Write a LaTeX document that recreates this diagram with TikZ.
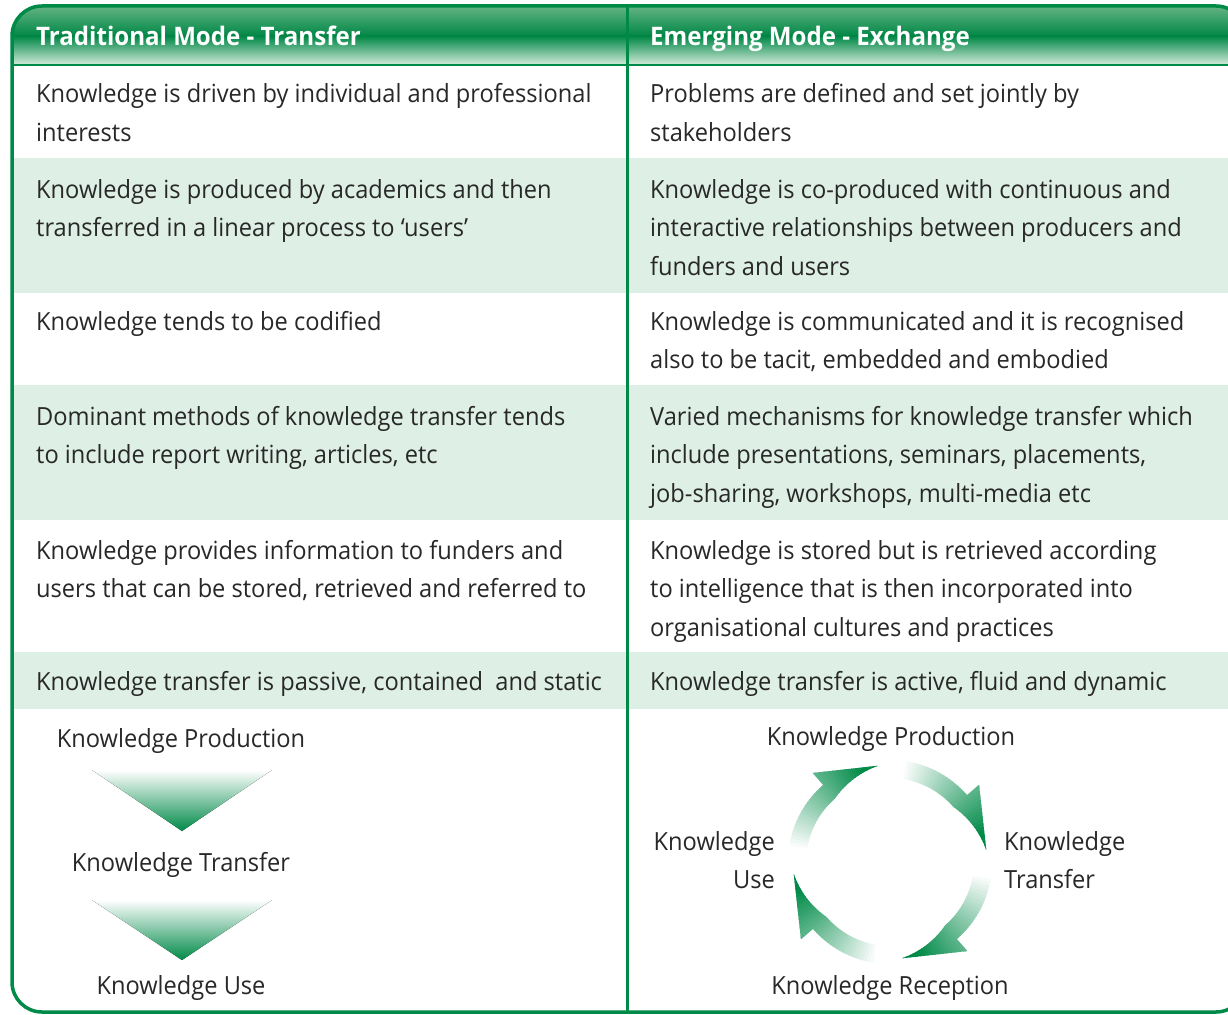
\documentclass[tikz,border=0pt]{standalone}
\usepackage{fontspec}
\setmainfont[FakeStretch=0.945]{Open Sans}
\definecolor{kgreen}{RGB}{0,138,72}
\definecolor{hdark}{RGB}{0,135,70}
\definecolor{hlight}{RGB}{100,180,130}
\definecolor{hpale}{RGB}{205,232,214}
\definecolor{rowgreen}{RGB}{222,239,230}
\definecolor{txt}{RGB}{40,40,40}
\newcommand{\celltext}[1]{\begin{tabular}[t]{@{}l@{}}#1\end{tabular}}
\newcommand{\celltextr}[1]{\begin{tabular}[t]{@{}r@{}}#1\end{tabular}}
\begin{document}
\begin{tikzpicture}[x=1pt,y=-1pt,
  body/.style={inner sep=0pt, anchor=base west, text=txt, font=\fontsize{25}{38.5}\selectfont},
  headtext/.style={inner sep=0pt, anchor=base west, text=white, font=\fontsize{25.5}{30}\selectfont\bfseries},
  lbl/.style={inner sep=0pt, anchor=base, text=txt, font=\fontsize{25}{38.5}\selectfont},
  funnel/.style={top color=white, bottom color=kgreen},
]
\useasboundingbox (0,0) rectangle (1228,1014);
\clip (0,0) rectangle (1228,1014);
\begin{scope}
  \clip[rounded corners=30pt] (12,6) rectangle (1246,1012);
  \fill[white] (0,0) rectangle (1228,1014);
  \fill[top color=hlight, bottom color=hdark] (0,6) rectangle (1228,36);
  \fill[top color=hdark, bottom color=hpale] (0,36) rectangle (1228,64);
  \fill[rowgreen] (0,158) rectangle (1228,293);
  \fill[rowgreen] (0,385) rectangle (1228,520);
  \fill[rowgreen] (0,652) rectangle (1228,709);
\end{scope}
\draw[kgreen, line width=1.5pt] (12,65) -- (1228,65);
\draw[kgreen, line width=3.5pt, rounded corners=30pt] (12,6) rectangle (1246,1012);
\draw[kgreen, line width=3pt] (627,6) -- (627,1014);

% headers
\node[headtext] (hl) at (36,46) {Traditional Mode - Transfer};
\node[headtext] (hr) at (650,46) {Emerging Mode - Exchange};

% rows
\node[body] (l1) at (36,103) {\celltext{Knowledge is driven by individual and professional\\interests}};
\node[body] (r1) at (650,103) {\celltext{Problems are defined and set jointly by\\stakeholders}};
\node[body] (l2) at (36,198) {\celltext{Knowledge is produced by academics and then\\transferred in a linear process to ‘users’}};
\node[body] (r2) at (650,198) {\celltext{Knowledge is co-produced with continuous and\\interactive relationships between producers and\\funders and users}};
\node[body] (l3) at (36,330) {\celltext{Knowledge tends to be codified}};
\node[body] (r3) at (650,330) {\celltext{Knowledge is communicated and it is recognised\\also to be tacit, embedded and embodied}};
\node[body] (l4) at (36,425) {\celltext{Dominant methods of knowledge transfer tends\\to include report writing, articles, etc}};
\node[body] (r4) at (650,425) {\celltext{Varied mechanisms for knowledge transfer which\\include presentations, seminars, placements,\\job-sharing, workshops, multi-media etc}};
\node[body] (l5) at (36,559) {\celltext{Knowledge provides information to funders and\\users that can be stored, retrieved and referred to}};
\node[body] (r5) at (650,559) {\celltext{Knowledge is stored but is retrieved according\\to intelligence that is then incorporated into\\organisational cultures and practices}};
\node[body] (l6) at (36,690) {Knowledge transfer is passive, contained\ \ and static};
\node[body] (r6) at (650,690) {Knowledge transfer is active, fluid and dynamic};

% left linear diagram
\node[lbl] (lp) at (181,747) {Knowledge Production};
\node[lbl] (lt) at (181,871) {Knowledge Transfer};
\node[lbl] (lu) at (181,994) {Knowledge Use};
\fill[funnel] (92,770) -- (272,770) -- (182,831) -- cycle;
\fill[funnel] (92,900) -- (272,900) -- (182,960) -- cycle;

% right cycle diagram
\node[lbl] (rp) at (891,745) {Knowledge Production};
\node[lbl, anchor=base west] (rt) at (1004,850) {\celltext{Knowledge\\Transfer}};
\node[lbl, anchor=base east] (ru) at (775,850) {\celltextr{Knowledge\\Use}};
\node[lbl] (rr) at (890,994) {Knowledge Reception};

\begin{scope}[shift={(890,862)}, yscale=-1]
  \foreach \a in {82,-8,-98,172} {
    \begin{scope}
      \clip (\a:102) arc[start angle=\a, end angle=\a-41, radius=102]
        -- (\a-41:118) -- (\a-75:97)
        .. controls (\a-63.7:94.8) and (\a-52.3:90.3) .. (\a-41:84)
        arc[start angle=\a-41, end angle=\a, radius=84] -- cycle;
      \foreach \i in {0,...,38} {
        \pgfmathsetmacro\t{min(100,\i*3.1)}
        \pgfmathsetmacro\sa{\a-2*\i+0.6}
        \pgfmathsetmacro\ea{\a-2*\i-2.6}
        \fill[kgreen!\t!white] (0,0) -- (\sa:130) arc[start angle=\sa, end angle=\ea, radius=130] -- cycle;
      }
    \end{scope}
  }
\end{scope}
\end{tikzpicture}
\end{document}
